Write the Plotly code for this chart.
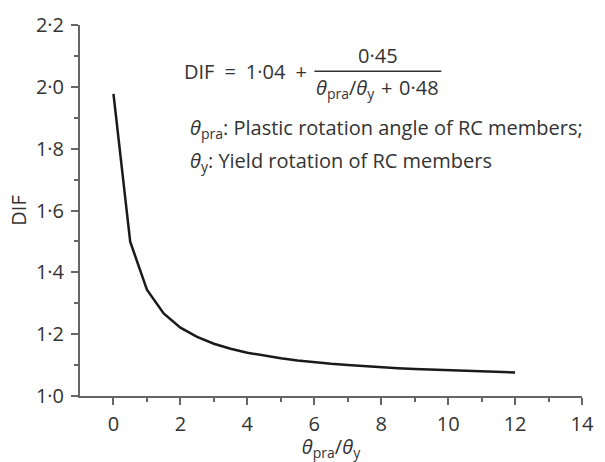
import plotly.graph_objects as go

# Data
ratio = [0, 0.5, 1, 1.5, 2, 2.5, 3, 3.5, 4, 4.5, 5, 5.5, 6, 6.5, 7, 7.5, 8, 8.5, 9, 9.5, 10, 10.5, 11, 11.5, 12]
dif = [1.977, 1.499, 1.344, 1.267, 1.221, 1.191, 1.169, 1.153, 1.140, 1.130, 1.122, 1.115, 1.109,
       1.104, 1.100, 1.096, 1.093, 1.090, 1.087, 1.085, 1.083, 1.081, 1.079, 1.078, 1.076]

x_ticks = [0, 2, 4, 6, 8, 10, 12, 14]
x_labels = ["0", "2", "4", "6", "8", "10", "12", "14"]
x_minor = [1, 3, 5, 7, 9, 11, 13]
y_ticks = [1.0, 1.2, 1.4, 1.6, 1.8, 2.0, 2.2]
y_labels = ["1·0", "1·2", "1·4", "1·6", "1·8", "2·0", "2·2"]
y_minor = [1.1, 1.3, 1.5, 1.7, 1.9, 2.1]

FONT = "Open Sans"
TXT = "#333333"
AX = "#666666"
SP = "\u2002"
SP3 = "\u2004"

fig = go.Figure()
fig.add_trace(go.Scatter(x=ratio, y=dif, mode="lines",
                         line=dict(color="#1a1a1a", width=2.5), showlegend=False))

L, R, T, B = 80, 11, 21, 64
W, H = 605, 462
pw, ph = W - L - R, H - T - B


def px(x):
    return (x - L) / pw


def py(y):
    return (H - B - y) / ph


fs = 20
ann = [
    dict(x=px(314), y=py(68), text=f"DIF{SP}={SP}1·04{SP}+", xanchor="right", yanchor="middle"),
    dict(x=px(385), y=py(52), text="0·45", xanchor="center", yanchor="middle"),
    dict(x=px(385), y=py(86), text=f"<i>θ</i><sub>pra</sub>/<i>θ</i><sub>y</sub>{SP3}+{SP3}0·48",
         xanchor="center", yanchor="middle"),
    dict(x=px(191), y=py(126), text="<i>θ</i><sub>pra</sub>: Plastic rotation angle of RC members;",
         xanchor="left", yanchor="middle"),
    dict(x=px(191), y=py(160), text="<i>θ</i><sub>y</sub>: Yield rotation of RC members",
         xanchor="left", yanchor="middle"),
]
for a in ann:
    a.update(xref="paper", yref="paper", showarrow=False,
             font=dict(family=FONT, size=fs, color=TXT))
fig.update_layout(annotations=ann)
fig.add_shape(type="line", xref="paper", yref="paper",
              x0=px(320), x1=px(450), y0=py(68), y1=py(68),
              line=dict(color=TXT, width=1.5))

fig.update_layout(
    width=W, height=H,
    margin=dict(l=L, r=R, t=T, b=B),
    paper_bgcolor="white", plot_bgcolor="white",
    font=dict(family=FONT, size=fs, color=TXT),
    xaxis=dict(range=[-1, 14], tickvals=x_ticks, ticktext=x_labels,
               showgrid=False, zeroline=False, showline=True, linecolor=AX, linewidth=2,
               ticks="outside", ticklen=7, tickwidth=2, tickcolor=AX, ticklabelstandoff=2,
               ticklabeloverflow="allow",
               minor=dict(tickvals=x_minor, ticks="outside", ticklen=4,
                          tickwidth=2, tickcolor=AX, showgrid=False),
               title=dict(text="<i>θ</i><sub>pra</sub>/<i>θ</i><sub>y</sub>", standoff=0,
                          font=dict(family=FONT, size=fs, color=TXT))),
    yaxis=dict(range=[1.0, 2.2], tickvals=y_ticks, ticktext=y_labels,
               showgrid=False, zeroline=False, showline=True, linecolor=AX, linewidth=2,
               ticks="outside", ticklen=7, tickwidth=2, tickcolor=AX, ticklabelstandoff=3,
               ticklabeloverflow="allow",
               minor=dict(tickvals=y_minor, ticks="outside", ticklen=4,
                          tickwidth=2, tickcolor=AX, showgrid=False),
               title=dict(text="DIF", standoff=4,
                          font=dict(family=FONT, size=fs, color=TXT))),
)

fig.write_html("out.html")
